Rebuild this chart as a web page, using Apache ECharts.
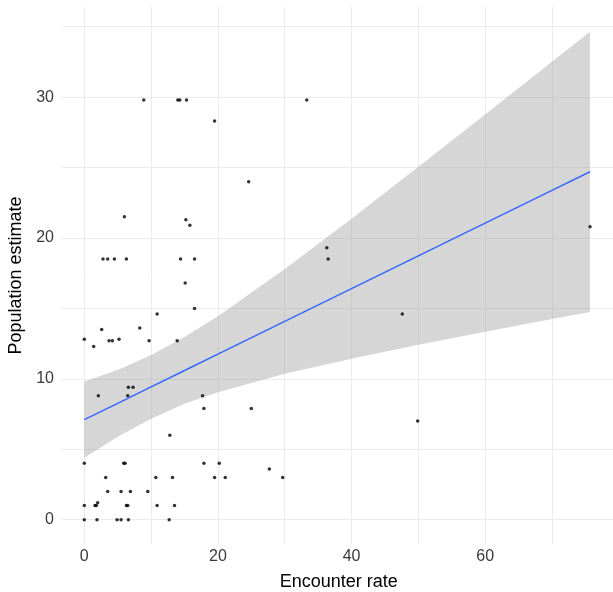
<!DOCTYPE html>
<html>
<head>
<meta charset="utf-8">
<script src="https://cdn.jsdelivr.net/npm/echarts@6/dist/echarts.min.js"></script>
<style>html,body{margin:0;padding:0;background:#fff}#c{width:613px;height:592px}</style>
</head>
<body>
<div id="c"></div>
<script>
// Scatter data
var encounterRate = [8.9,14.0,14.3,15.3,19.5,33.3,24.6,6.0,15.2,15.8,2.8,3.5,4.5,6.3,14.4,16.5,15.1,16.5,10.9,2.6,8.3,0,1.4,3.7,4.2,5.2,9.7,13.9,6.6,7.3,2.1,6.5,17.7,17.9,25.0,12.8,0,5.9,6.1,17.9,20.2,27.7,3.2,10.7,13.2,19.5,21.1,29.7,3.5,5.5,6.9,9.5,0,1.6,1.8,2.0,6.3,6.5,10.9,13.5,0,1.9,4.9,5.5,6.6,12.7,36.3,36.5,49.9,75.7,47.6];
var populationEstimate = [29.8,29.8,29.8,29.8,28.3,29.8,24.0,21.5,21.3,20.9,18.5,18.5,18.5,18.5,18.5,18.5,16.8,15.0,14.6,13.5,13.6,12.8,12.3,12.7,12.7,12.8,12.7,12.7,9.4,9.4,8.8,8.8,8.8,7.9,7.9,6.0,4.0,4.0,4.0,4.0,4.0,3.6,3.0,3.0,3.0,3.0,3.0,3.0,2.0,2.0,2.0,2.0,1.0,1.0,1.0,1.2,1.0,1.0,1.0,1.0,0,0,0,0,0,0,19.3,18.5,7.0,20.8,14.6];

// Fitted line and confidence band
var fitX     = [0, 5, 10, 15, 20, 30, 40, 50, 60, 70, 75.7];
var fitY     = [7.1, 8.26, 9.43, 10.59, 11.75, 14.08, 16.4, 18.73, 21.05, 23.38, 24.7];
var bandUpper= [9.8, 10.63, 11.69, 12.96, 14.45, 17.8, 21.37, 25.05, 28.76, 32.51, 34.65];
var bandLower= [4.4, 5.89, 7.17, 8.22, 9.05, 10.36, 11.43, 12.41, 13.34, 14.25, 14.75];

// Axis ticks / gridlines
var xTicks = [0, 20, 40, 60];
var yTicks = [0, 10, 20, 30];
var xGrid = [0, 10, 20, 30, 40, 50, 60, 70];
var yGrid = [0, 5, 10, 15, 20, 25, 30, 35];

var FONT = "'Liberation Sans Narrow', 'Liberation Sans', Arial, sans-serif";

var pts = encounterRate.map(function (x, i) { return [x, populationEstimate[i]]; });
var line = fitX.map(function (x, i) { return [x, fitY[i]]; });

var chart = echarts.init(document.getElementById('c'), null, {renderer: 'canvas'});
chart.setOption({
  animation: false,
  backgroundColor: '#ffffff',
  grid: {left: 62, top: 7, width: 553.4, height: 537, containLabel: false, outerBoundsMode: 'none'},
  xAxis: {
    type: 'value', min: -3.34, max: 79.5,
    axisLine: {show: false}, axisTick: {show: false}, splitLine: {show: false},
    axisLabel: {customValues: xTicks, color: '#3a3a3a', fontSize: 16, fontFamily: FONT, margin: 5},
    name: 'Encounter rate', nameLocation: 'middle', nameGap: 29,
    nameTextStyle: {color: '#000', fontSize: 18, fontFamily: FONT}
  },
  yAxis: {
    type: 'value', min: -1.73, max: 36.4,
    axisLine: {show: false}, axisTick: {show: false}, splitLine: {show: false},
    axisLabel: {customValues: yTicks, color: '#3a3a3a', fontSize: 16, fontFamily: FONT, margin: 8},
    name: 'Population estimate', nameLocation: 'middle', nameGap: 24, nameRotate: 90,
    nameTextStyle: {color: '#000', fontSize: 18, fontFamily: FONT}
  },
  series: [
    {
      type: 'line', data: [], silent: true, z: 0,
      markLine: {
        silent: true, symbol: 'none', animation: false, z: 0,
        label: {show: false},
        lineStyle: {color: '#ebebeb', width: 1, type: 'solid'},
        data: xGrid.map(function (v) { return {xAxis: v}; }).concat(yGrid.map(function (v) { return {yAxis: v}; }))
      }
    },
    {
      type: 'custom', silent: true, data: [0], z: 2,
      renderItem: function (params, api) {
        var poly = [];
        for (var i = 0; i < fitX.length; i++) poly.push(api.coord([fitX[i], bandUpper[i]]));
        for (var j = fitX.length - 1; j >= 0; j--) poly.push(api.coord([fitX[j], bandLower[j]]));
        return {type: 'polygon', shape: {points: poly, smooth: 0}, style: {fill: 'rgba(153,153,153,0.4)'}};
      }
    },
    {
      type: 'scatter', data: pts, symbolSize: 3.5, z: 6, clip: false,
      itemStyle: {color: '#000'}, silent: true
    },
    {
      type: 'line', data: line, showSymbol: false, z: 7, silent: true,
      lineStyle: {color: '#3366FF', width: 1.5}
    }
  ]
});
</script>
</body>
</html>
